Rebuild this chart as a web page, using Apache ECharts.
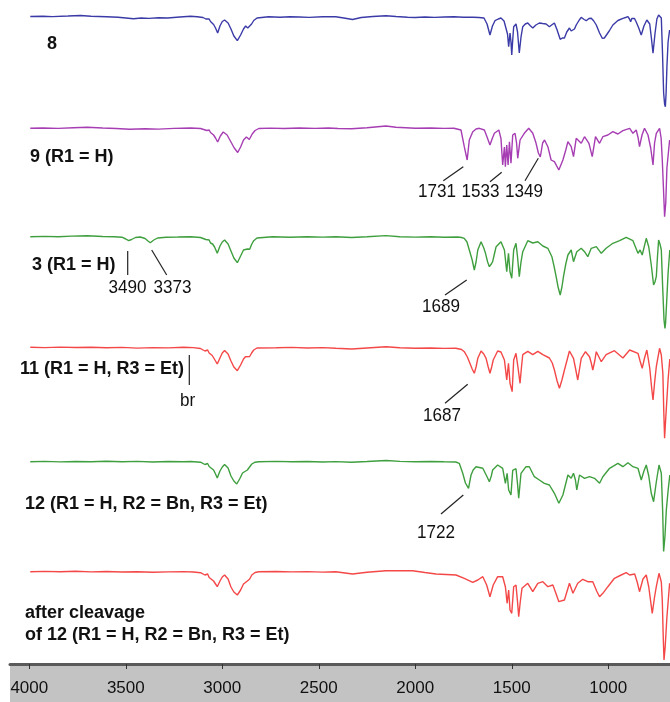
<!DOCTYPE html>
<html><head><meta charset="utf-8">
<script src="https://cdn.jsdelivr.net/npm/echarts@6/dist/echarts.min.js"></script>
<style>html,body{margin:0;padding:0;background:#fff}#c{width:670px;height:702px}</style>
</head><body><div id="c"></div>
<script>
// x-axis tick values (wavenumber, cm-1)
const tickValues = [4000, 3500, 3000, 2500, 2000, 1500, 1000];

// Spectra: [wavenumber, relative transmittance]
const spec8 = [[3995,95.5],[3930,95.8],[3880,95.4],[3800,96],[3735,96.5],[3680,95.8],[3600,95.3],[3540,94.8],[3460,93.2],[3420,94],[3380,93.6],[3330,94.3],[3284,94],[3220,95],[3164,95.8],[3130,95.2],[3100,94.5],[3085,93],[3076,91.5],[3068,93],[3061,90.5],[3052,91.5],[3045,87.5],[3035,84],[3024,79],[3012,86],[3000,90.5],[2988,92],[2970,89],[2955,83],[2940,76],[2922,71.3],[2905,77],[2890,83],[2879,86],[2868,84],[2858,82],[2848,88],[2837,91.5],[2820,94],[2811,94.8],[2760,95.2],[2700,94.7],[2650,95.3],[2600,95],[2550,94.6],[2480,95.2],[2412,95.3],[2370,94],[2325,92.5],[2280,94.5],[2220,95.5],[2152,96.3],[2100,95.5],[2040,94.8],[2000,94.5],[1950,95],[1900,94.6],[1850,95],[1800,95.2],[1750,94.8],[1700,94.7],[1670,94.5],[1644,94],[1628,88],[1613,77],[1600,86],[1587,91.3],[1570,93],[1556,94],[1540,91],[1530,89],[1522,78],[1516,65.3],[1509,79],[1504,70],[1500,57],[1495,72],[1490,85.3],[1478,88],[1470,80],[1461,59],[1452,75],[1443,85.3],[1430,88],[1417,89],[1405,86.5],[1391,84],[1375,87],[1357,89],[1340,88.5],[1322,88],[1305,85.3],[1290,87.5],[1279,89],[1265,82],[1249,72.7],[1238,74],[1227,74],[1215,80],[1201,84],[1192,81],[1183,79],[1175,83],[1166,87],[1150,92],[1140,94.7],[1125,92.5],[1114,91.3],[1100,93.5],[1088,93.7],[1075,91],[1062,87],[1045,79],[1031,73.7],[1020,74],[1011,75.3],[995,81],[976,87],[950,91.5],[924,93.7],[910,94.5],[898,95.3],[890,93],[884,90.3],[878,93.5],[872,95.3],[864,93.5],[855,90],[842,84],[829,77],[815,86],[800,92],[794,93.7],[785,88],[777,75],[768,58.7],[758,78],[748,93],[739,97],[732,96],[725,94],[719,60],[713,19],[708,8],[704,5.3],[700,20],[696,45.3],[690,70],[682,82]];

const spec9 = [[3995,94.7],[3930,95],[3850,94.6],[3770,95.3],[3700,95.8],[3620,95],[3550,94.5],[3480,93.8],[3400,94.3],[3330,93.9],[3250,94.6],[3164,95],[3113,94.5],[3080,92.5],[3068,93],[3061,90.5],[3045,88],[3035,85],[3024,81],[3010,87],[2995,91],[2975,88],[2955,81],[2938,75],[2920,70.5],[2905,76],[2890,83],[2875,86],[2860,83.5],[2845,89],[2830,92.5],[2811,94.5],[2750,94.9],[2680,94.5],[2600,95],[2520,94.6],[2450,95],[2400,94.5],[2330,94.3],[2250,95.2],[2152,97],[2100,95.8],[2000,94.8],[1920,95],[1850,94.6],[1800,94.8],[1763,93],[1746,76.3],[1731,63],[1720,83],[1702,91.3],[1685,94],[1668,94.7],[1642,93],[1628,86],[1613,78],[1600,85],[1590,89.7],[1567,93],[1556,84.7],[1547,58],[1538,76],[1533,56.3],[1526,78],[1519,58],[1512,81.3],[1504,59.7],[1495,88],[1483,89.7],[1475,80],[1469,64.7],[1457,83],[1435,89.7],[1412,94.7],[1391,89.7],[1374,79.7],[1362,70],[1352,66],[1340,80],[1330,83],[1313,76.3],[1296,63],[1279,61.3],[1256,53],[1235,63],[1220,73],[1209,81.3],[1192,76.3],[1180,66.3],[1166,84.7],[1140,79.7],[1123,86.3],[1100,79.7],[1083,66.3],[1066,86.3],[1045,79.7],[1028,86.3],[1002,88],[976,91.3],[950,89],[924,92.3],[889,94.7],[872,89.7],[855,93],[845,85],[838,76.3],[825,88],[812,94.7],[794,88],[780,75],[768,58],[760,80],[751,89.7],[734,94.7],[726,85],[720,63],[714,35],[708,6.3],[702,20],[696,55],[682,83]];

const spec3 = [[3995,95.3],[3920,95.6],[3850,95.2],[3780,95.9],[3700,96.3],[3620,95.5],[3560,95.3],[3520,94.8],[3500,93],[3485,91.3],[3470,92.5],[3450,94.5],[3425,95],[3400,93.5],[3385,91],[3373,89.3],[3355,92],[3335,94],[3290,94.8],[3230,95],[3164,95.3],[3113,94.5],[3085,92.5],[3076,91],[3068,92],[3061,89],[3050,88],[3040,85],[3026,78.7],[3012,86],[3000,90],[2988,92],[2970,88],[2955,81],[2940,74],[2922,69.3],[2905,76],[2890,82],[2880,84],[2870,83],[2858,82.7],[2847,88],[2837,91.3],[2820,94],[2811,94.5],[2740,95.2],[2650,94.8],[2560,95.2],[2480,94.9],[2412,95.3],[2330,94.5],[2250,95.3],[2152,96.4],[2080,95.3],[2000,94.9],[1920,95.2],[1850,94.8],[1780,95],[1760,94.5],[1746,93.7],[1732,90],[1720,82],[1705,72],[1694,62],[1685,70],[1676,82],[1659,90.3],[1645,84],[1636,78.7],[1625,70],[1616,65.3],[1606,68],[1599,70.3],[1590,78],[1581,85.3],[1556,90.3],[1538,82],[1526,60.3],[1517,78.7],[1509,60.3],[1500,53.7],[1490,82],[1478,88.7],[1470,75],[1461,55.3],[1452,70],[1443,80.3],[1417,91.3],[1391,89],[1365,90.3],[1339,86],[1313,83.7],[1292,75.3],[1280,65],[1270,55.3],[1260,45],[1249,37],[1240,45],[1232,55.3],[1220,68],[1209,77],[1192,82],[1180,70.3],[1163,80.3],[1140,83.7],[1123,80.3],[1106,75.3],[1088,83.7],[1062,85.3],[1036,78.7],[1011,83.7],[976,88.7],[941,91.3],[907,94.7],[872,91.3],[846,78.7],[835,82],[824,77],[803,93.7],[790,85],[777,67],[765,47],[758,50],[751,55.3],[745,75],[739,92],[732,88],[725,82],[718,45],[711,12],[706,3.5],[703,8.7],[696,35],[690,58.7],[681,82]];

const spec11 = [[3995,95.7],[3920,95.4],[3840,95.9],[3760,95.5],[3680,95.8],[3600,95.3],[3520,95.6],[3440,94.9],[3360,95.4],[3280,95.1],[3200,95.7],[3150,95.4],[3113,94.5],[3090,92],[3076,93],[3068,90],[3061,91],[3052,87.5],[3045,86],[3035,82],[3026,79],[3012,85],[3000,90],[2988,92.5],[2970,89],[2955,82],[2940,76],[2922,72.3],[2905,78],[2890,84],[2880,86.3],[2870,85],[2858,86.5],[2848,90],[2837,93],[2820,95],[2811,95.5],[2720,95.2],[2640,95.6],[2560,95],[2480,95.4],[2412,94.7],[2330,94],[2250,95],[2152,96.3],[2080,95.2],[2000,94.8],[1920,95],[1850,94.6],[1790,94.8],[1760,93.5],[1746,91.3],[1730,86],[1720,81.3],[1705,74],[1694,69.7],[1685,76],[1676,84.7],[1659,92],[1645,89],[1633,84.7],[1622,76],[1613,69.7],[1604,76],[1596,83],[1573,92],[1556,91],[1538,83],[1526,63],[1517,79.7],[1509,59.7],[1498,51.3],[1490,83],[1478,89.7],[1468,76],[1457,59.7],[1450,75],[1443,88.3],[1417,91.7],[1391,88.3],[1365,91.7],[1339,88.3],[1305,85],[1290,80],[1279,73],[1265,62],[1253,54.7],[1240,63],[1227,73],[1201,92],[1180,84.7],[1170,75],[1158,63],[1148,75],[1140,84.7],[1118,91.3],[1097,86.3],[1088,80],[1080,73],[1070,82],[1062,91.3],[1036,81.3],[1011,88.3],[968,92.3],[924,85],[889,93],[846,89.7],[835,82],[824,74.7],[812,85],[800,93],[785,75],[775,55],[768,43],[760,60],[751,76.3],[734,94.7],[725,88],[717,69.7],[712,30],[708,4.7],[702,25],[690,63],[681,84]];

const spec12 = [[3995,94.3],[3920,94.6],[3840,94.1],[3760,94.5],[3680,94.2],[3600,94.7],[3520,94.2],[3440,94.6],[3360,94],[3280,94.5],[3200,94.3],[3164,94.5],[3113,93.8],[3090,91.5],[3076,92.5],[3068,89.5],[3058,90],[3045,86],[3035,82],[3026,78],[3012,85],[3000,89],[2988,91.5],[2970,88],[2955,80],[2940,75],[2925,72],[2910,77],[2895,83],[2885,84.3],[2870,86],[2860,88],[2847,92],[2830,93.8],[2811,94.3],[2720,94.6],[2640,94.2],[2560,94.5],[2480,94],[2412,94.4],[2330,93.8],[2250,94.5],[2152,95.5],[2080,94.6],[2000,94.3],[1920,94.5],[1850,94.2],[1790,94],[1772,92.7],[1754,82.7],[1740,73],[1724,67.7],[1711,81],[1700,86],[1685,89.3],[1650,87.7],[1630,80],[1616,74.3],[1606,80],[1599,86],[1573,91],[1547,87.7],[1533,72.7],[1524,82.7],[1516,66],[1504,61],[1495,85.7],[1478,87.3],[1470,72],[1464,57.7],[1452,82.7],[1426,89.3],[1409,89.3],[1383,79.3],[1357,76],[1331,72.7],[1305,71],[1279,62.7],[1256,52.7],[1235,61],[1209,81],[1192,77.7],[1180,82.7],[1170,76],[1163,66],[1149,81],[1123,77.7],[1097,79.3],[1071,77.7],[1045,72.7],[1028,79.3],[993,87.7],[950,92.7],[924,89.3],[898,93.3],[872,89.3],[846,87.7],[829,76],[815,85],[803,91],[790,80],[777,62.7],[765,54.3],[751,74],[737,91],[725,82.7],[718,45],[713,4.5],[706,20],[699,46],[690,65],[681,81]];

const specCleaved = [[3995,95.3],[3920,95.6],[3840,95.2],[3760,95.7],[3680,95.1],[3600,95.5],[3520,95],[3440,95.3],[3360,94.8],[3280,95.1],[3200,95.4],[3150,95],[3113,94.3],[3090,92],[3076,93],[3068,89.5],[3058,90.5],[3045,86],[3035,83],[3026,80.3],[3012,86],[3000,90],[2988,92],[2970,88],[2955,80],[2940,75],[2922,72],[2905,77],[2890,83],[2880,84.3],[2870,86],[2858,88],[2847,92],[2830,94.5],[2811,95.2],[2720,95.5],[2640,95.1],[2560,95.4],[2480,94.9],[2412,95.3],[2325,93],[2250,94.8],[2152,96.3],[2014,96.3],[1950,94.5],[1893,93],[1840,92.5],[1789,92],[1746,88.7],[1702,84.7],[1676,87],[1650,90.3],[1630,82],[1613,70.3],[1596,82],[1573,90.3],[1547,90.3],[1533,80.3],[1524,63.7],[1516,77],[1509,57],[1500,53.7],[1490,80.3],[1478,82],[1470,65],[1464,50.3],[1456,65],[1447,78.7],[1417,83.7],[1391,75.3],[1365,83.7],[1339,85.3],[1313,80.3],[1287,82],[1270,73],[1256,65.3],[1227,67],[1201,83.7],[1183,73.7],[1158,83.7],[1132,87.7],[1106,85.3],[1080,85.3],[1060,76],[1045,70.3],[1028,73.7],[1002,80.3],[968,88.7],[933,92],[907,94.3],[889,92],[863,93],[850,85],[838,75.3],[820,88],[803,92],[790,80],[772,53.7],[760,70],[751,80.3],[737,93.7],[725,85],[720,67],[715,30],[711,7],[705,20],[696,50],[682,83.7]];

const compoundLabels = ['8', '9 (R1 = H)', '3 (R1 = H)', '11 (R1 = H, R3 = Et)', '12 (R1 = H, R2 = Bn, R3 = Et)', 'after cleavage', 'of 12 (R1 = H, R2 = Bn, R3 = Et)'];
const peakLabels = ['1731', '1533', '1349', '1689', '1687', '1722', '3490', '3373', 'br'];

const traces = [
  { data: spec8, color: '#3b3ba8' },
  { data: spec9, color: '#a63db3' },
  { data: spec3, color: '#3f9f3f' },
  { data: spec11, color: '#f44848' },
  { data: spec12, color: '#3f9f3f' },
  { data: specCleaved, color: '#f44848' }
];

const X_MIN = 680, X_MAX = 4100;
const tops = [12, 123, 232, 343, 456, 567];

const grid = tops.map(t => ({ left: 10, right: 0, top: t, height: 100 }));
grid.push({ left: 10, right: 0, top: 664, height: 38, show: true, backgroundColor: '#c3c3c3', borderWidth: 0 });

const xAxis = tops.map((t, i) => ({ type: 'value', gridIndex: i, min: X_MIN, max: X_MAX, inverse: true, show: false }));
xAxis.push({
  type: 'value', gridIndex: 6, min: X_MIN, max: X_MAX, inverse: true, position: 'top',
  axisLine: { show: true, onZero: false, lineStyle: { color: '#5a5a5a', width: 3 } },
  axisTick: { show: true, inside: true, length: 5, lineStyle: { color: '#333', width: 1 }, customValues: tickValues },
  axisLabel: { show: true, inside: true, margin: 16, color: '#111', fontSize: 17, fontFamily: '"Liberation Sans", Arial, sans-serif', customValues: tickValues, formatter: v => String(v) },
  splitLine: { show: false }
});
const yAxis = grid.map((g, i) => ({ type: 'value', gridIndex: i, min: 0, max: 100, show: false }));

const series = traces.map((t, i) => ({
  type: 'line', xAxisIndex: i, yAxisIndex: i, data: t.data,
  showSymbol: false, symbol: 'none', silent: true,
  lineStyle: { color: t.color, width: 1.4 }, itemStyle: { color: t.color }
}));

const boldFont = 'bold 18px "Liberation Sans", Arial, sans-serif';
const numFont = '19px "Liberation Sans", Arial, sans-serif';
function btext(txt, x, y) {
  return { type: 'text', x: x, y: y, style: { text: txt, font: boldFont, fill: '#111', textAlign: 'left', textVerticalAlign: 'middle' } };
}
function ntext(txt, x, y) {
  return { type: 'text', x: x, y: y, scaleX: 0.9, style: { text: txt, font: numFont, fill: '#111', textAlign: 'center', textVerticalAlign: 'middle' } };
}
function seg(x1, y1, x2, y2) {
  return { type: 'line', shape: { x1: x1, y1: y1, x2: x2, y2: y2 }, style: { stroke: '#222', lineWidth: 1.2 } };
}

const graphic = [
  btext(compoundLabels[0], 47, 44),
  btext(compoundLabels[1], 30, 157),
  btext(compoundLabels[2], 32, 265),
  btext(compoundLabels[3], 20, 369),
  btext(compoundLabels[4], 25, 504),
  btext(compoundLabels[5], 25, 613),
  btext(compoundLabels[6], 25, 635),
  ntext(peakLabels[0], 437, 192),
  ntext(peakLabels[1], 480.5, 192),
  ntext(peakLabels[2], 524, 192),
  ntext(peakLabels[3], 441, 307),
  ntext(peakLabels[4], 442, 416),
  ntext(peakLabels[5], 436, 533),
  ntext(peakLabels[6], 127.5, 288),
  ntext(peakLabels[7], 172.5, 288),
  ntext(peakLabels[8], 187.5, 401),
  seg(127.7, 251, 127.7, 275),
  seg(151.7, 250, 166.7, 275),
  seg(189.3, 355, 189.3, 385),
  seg(463.3, 166.7, 443.3, 180.7),
  seg(501.7, 172.3, 490, 181.7),
  seg(538.3, 158.3, 525, 180.7),
  seg(466.7, 280, 445, 295),
  seg(467.7, 384.3, 445, 403.3),
  seg(463.3, 495, 441, 514)
];

const chart = echarts.init(document.getElementById('c'), null, { renderer: 'canvas' });
chart.setOption({
  animation: false,
  backgroundColor: '#ffffff',
  grid: grid, xAxis: xAxis, yAxis: yAxis, series: series, graphic: graphic
});
</script>
</body></html>
